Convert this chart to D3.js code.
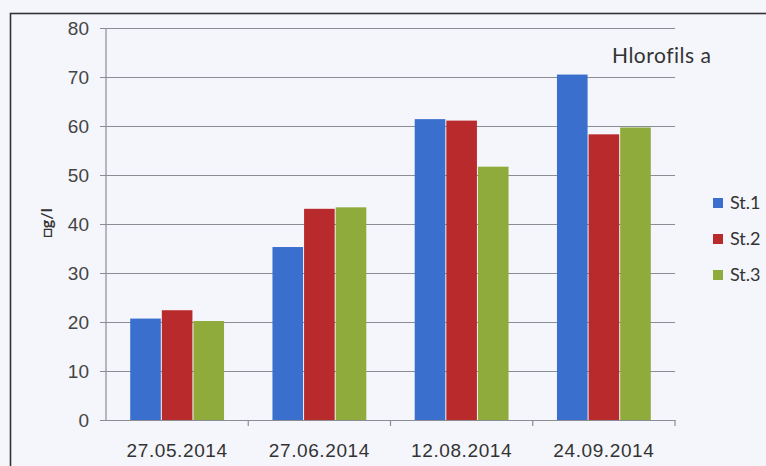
<!DOCTYPE html>
<html>
<head>
<meta charset="utf-8">
<script src="https://cdn.jsdelivr.net/npm/d3@7"></script>
<style>
  body { margin: 0; background: #f4f6fb; }
  svg { display: block; font-family: Lato, "Open Sans", sans-serif; }
</style>
</head>
<body>
<div id="chart"></div>
<script>
// data
const dates = ["27.05.2014", "27.06.2014", "12.08.2014", "24.09.2014"]
const seriesNames = ["St.1", "St.2", "St.3"]
const st1 = [20.7, 35.3, 61.4, 70.5]
const st2 = [22.4, 43.1, 61.1, 58.3]
const st3 = [20.2, 43.4, 51.7, 59.7]
const yTicks = [0, 10, 20, 30, 40, 50, 60, 70, 80]
const colors = ["#3b6fce", "#b82a2b", "#8eab3c"]

const W = 766, H = 466
const margin = {top: 28, right: 91, bottom: 46, left: 106}
const width = W - margin.left - margin.right,
      height = H - margin.top - margin.bottom

const svg = d3.select("#chart").append("svg")
  .attr("width", W)
  .attr("height", H)

// outer frame (only top and left show in the picture)
svg.append("rect")
  .attr("x", 10.5).attr("y", 13.5)
  .attr("width", W).attr("height", H)
  .attr("fill", "none")
  .attr("stroke", "#333")
  .attr("stroke-width", 1.6)

const g = svg.append("g")
  .attr("transform", "translate(" + margin.left + "," + margin.top + ")")

const x0 = d3.scaleBand().domain(dates).range([0, width]).paddingInner(0).paddingOuter(0)
const bw = x0.bandwidth() / 4.5
const x1 = d3.scaleBand().domain(seriesNames).range([bw * 0.75, bw * 3.75])
const y = d3.scaleLinear().domain([0, 80]).range([height, 0])

// gridlines + left axis
const yAxis = g.append("g")
  .call(d3.axisLeft(y).tickValues(yTicks).tickSize(-width).tickPadding(17))
yAxis.select(".domain").remove()
yAxis.selectAll(".tick line")
  .attr("x1", -6)
  .attr("stroke", "#8a8e94")
  .attr("stroke-width", 1.2)
yAxis.selectAll(".tick text")
  .attr("fill", "#444")
  .style("font-size", "19px")

g.append("line")
  .attr("x1", 0).attr("x2", 0)
  .attr("y1", 0).attr("y2", height)
  .attr("stroke", "#8a8e94").attr("stroke-width", 1.2)

// bars
const data = dates.map((d, i) => ({date: d, vals: [st1[i], st2[i], st3[i]]}))
g.append("g").selectAll("g")
  .data(data)
  .enter().append("g")
    .attr("transform", d => "translate(" + x0(d.date) + ",0)")
  .selectAll("rect")
  .data(d => d.vals.map((v, j) => ({name: seriesNames[j], v: v, j: j})))
  .enter().append("rect")
    .attr("x", d => x1(d.name) + 0.5)
    .attr("width", x1.bandwidth() - 1)
    .attr("y", d => y(d.v))
    .attr("height", d => height - y(d.v))
    .attr("fill", d => colors[d.j])

// bottom axis
const xAxis = g.append("g")
  .attr("transform", "translate(0," + height + ")")
  .call(d3.axisBottom(x0).tickSize(0).tickPadding(24))
xAxis.select(".domain")
  .attr("stroke", "#8a8e94").attr("stroke-width", 1.2)
xAxis.selectAll("text")
  .attr("fill", "#333")
  .style("font-size", "19px")
  .style("letter-spacing", "0.6px")
// boundary ticks between categories
xAxis.selectAll(".bound")
  .data(d3.range(1, dates.length + 1))
  .enter().append("line")
    .attr("x1", i => i * x0.step()).attr("x2", i => i * x0.step())
    .attr("y1", 0).attr("y2", 6)
    .attr("stroke", "#8a8e94").attr("stroke-width", 1.2)

// y label
svg.append("text")
  .attr("transform", "translate(52,223) rotate(-90)")
  .attr("text-anchor", "middle")
  .attr("fill", "#333")
  .style("font-size", "16px")
  .style("font-weight", "bold")
  .text("□g/l")

// title
svg.append("text")
  .attr("x", 612).attr("y", 63)
  .attr("fill", "#333")
  .style("font-size", "21px")
  .style("letter-spacing", "0.5px")
  .text("Hlorofils a")

// legend
const legend = svg.append("g").attr("transform", "translate(713,203)")
seriesNames.forEach((s, i) => {
  legend.append("rect")
    .attr("x", 0).attr("y", i * 36 - 5)
    .attr("width", 10).attr("height", 10)
    .attr("fill", colors[i])
  legend.append("text")
    .attr("x", 17).attr("y", i * 36 + 6)
    .attr("fill", "#333")
    .style("font-size", "18px")
    .text(s)
})
</script>
</body>
</html>
